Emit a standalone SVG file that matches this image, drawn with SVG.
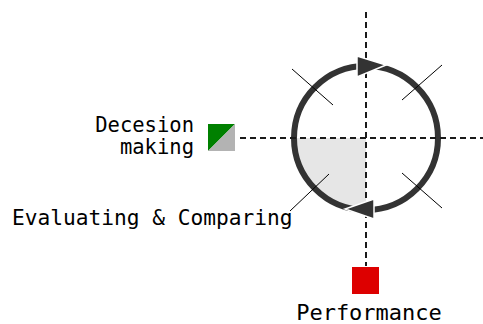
<svg xmlns="http://www.w3.org/2000/svg" width="483" height="324" viewBox="0 0 483 324">
  <style>
    .lbl { font-family: "DejaVu Sans Mono", "Liberation Mono", monospace; font-size: 20px; fill: #000; }
    .axis { stroke: #1a1a1a; stroke-width: 2; stroke-dasharray: 6 4; fill: none; }
    .tick { stroke: #000; stroke-width: 1; fill: none; }
    .ring { stroke: #333; stroke-width: 6; fill: none; }
    .head { fill: #333; stroke: #fff; stroke-width: 1.5; stroke-linejoin: miter; }
  </style>
  <rect width="483" height="324" fill="#fff"/>

  <g id="cycle">
    <path d="M366,138 L294,138 A72,72 0 0 0 366,210 Z" fill="#e6e6e6"/>
    <circle class="ring" cx="366" cy="138" r="72"/>
  </g>

  <g id="connectors">
    <line class="axis" x1="240" y1="138" x2="483" y2="138"/>
    <line class="axis" x1="366" y1="12" x2="366" y2="266"/>
    <line class="tick" x1="292" y1="69" x2="333" y2="105"/>
    <line class="tick" x1="442" y1="65" x2="402" y2="100"/>
    <line class="tick" x1="402" y1="173" x2="442" y2="208"/>
    <line class="tick" x1="329" y1="174" x2="290" y2="211"/>
    <polygon class="head" points="357,56 357,77 386,65"/>
    <polygon class="head" points="374,199 374,219 345,209"/>
  </g>

  <g id="decision">
    <polygon points="208,124 235,124 208,151" fill="#008000"/>
    <polygon points="235,124 235,151 208,151" fill="#b3b3b3"/>
    <text class="lbl" x="194" y="132" text-anchor="end" style="font-size:20.5px">Decesion</text>
    <text class="lbl" x="194" y="154" text-anchor="end" style="font-size:20.5px">making</text>
  </g>

  <g id="evaluating">
    <text class="lbl" x="12" y="225" style="font-size:21.2px">Evaluating &amp; Comparing</text>
  </g>

  <g id="performance">
    <rect x="352" y="267" width="27" height="27" fill="#dd0000"/>
    <text class="lbl" x="369" y="320" text-anchor="middle" style="font-size:22px">Performance</text>
  </g>
</svg>
